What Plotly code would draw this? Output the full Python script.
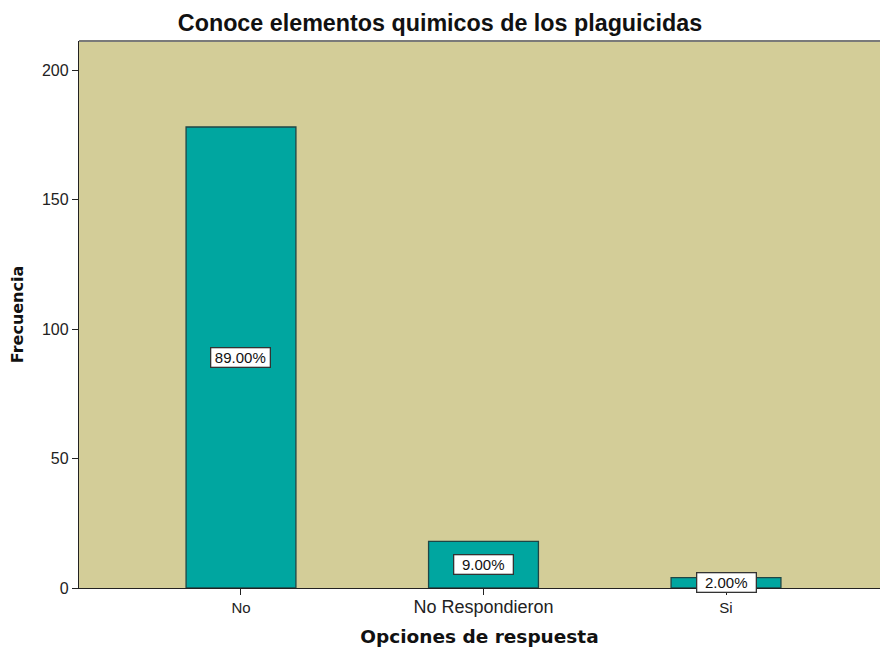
import plotly.graph_objects as go

categorias = ["No", "No Respondieron", "Si"]
frecuencias = [178, 18, 4]
porcentajes = ["89.00%", "9.00%", "2.00%"]
etiquetas_eje = ["No", "<span style='font-size:18px'>No Respondieron</span>", "Si"]
valores_y = [0, 50, 100, 150, 200]

posiciones = list(range(len(categorias)))

fig = go.Figure()
fig.add_trace(go.Bar(
    x=posiciones,
    y=frecuencias,
    width=0.453,
    marker=dict(color="#00A6A0", line=dict(color="#1E4646", width=1.3)),
    hoverinfo="skip",
))

for pos, valor, texto in zip(posiciones, frecuencias, porcentajes):
    fig.add_annotation(
        x=pos, y=valor / 2, text=texto, showarrow=False,
        font=dict(family="Arial, Liberation Sans", size=15, color="#111111"),
        bgcolor="white", bordercolor="#333333", borderwidth=1.3, borderpad=1,
        width=56, height=16,
    )

# gray border along the top of the plotting area
fig.add_shape(type="line", xref="paper", yref="paper", x0=0, x1=1, y0=1, y1=1,
              line=dict(color="#7A7A7A", width=2))

fig.update_layout(
    width=880, height=648,
    margin=dict(l=79, r=0, t=41, b=60),
    paper_bgcolor="white",
    plot_bgcolor="#D3CD98",
    showlegend=False,
    font=dict(family="Arial, Liberation Sans", color="#222222"),
    title=dict(text="<b>Conoce elementos quimicos de los plaguicidas</b>",
               x=0.5, xanchor="center", y=0.9645, yanchor="middle",
               font=dict(size=23.3, color="#111111")),
    xaxis=dict(
        range=[-0.668, 2.635],
        tickvals=posiciones, ticktext=etiquetas_eje,
        ticks="outside", ticklen=6, tickcolor="#222222", tickwidth=1.3,
        tickfont=dict(size=15, color="#222222"),
        showline=True, linecolor="#222222", linewidth=1.3,
        showgrid=False, zeroline=False,
        title=dict(text="<b>Opciones de respuesta</b>", standoff=13,
                   font=dict(family="DejaVu Sans", size=18.5, color="#111111")),
    ),
    yaxis=dict(
        range=[0, 211.2],
        tickvals=valores_y,
        ticks="outside", ticklen=6, tickcolor="#222222", tickwidth=1.3,
        tickfont=dict(size=16, color="#222222"),
        showline=True, linecolor="#222222", linewidth=1.3,
        showgrid=False, zeroline=False,
        title=dict(text="<b>Frecuencia</b>", standoff=14,
                   font=dict(family="DejaVu Sans", size=16, color="#111111")),
    ),
)

fig.write_html("out.html")
